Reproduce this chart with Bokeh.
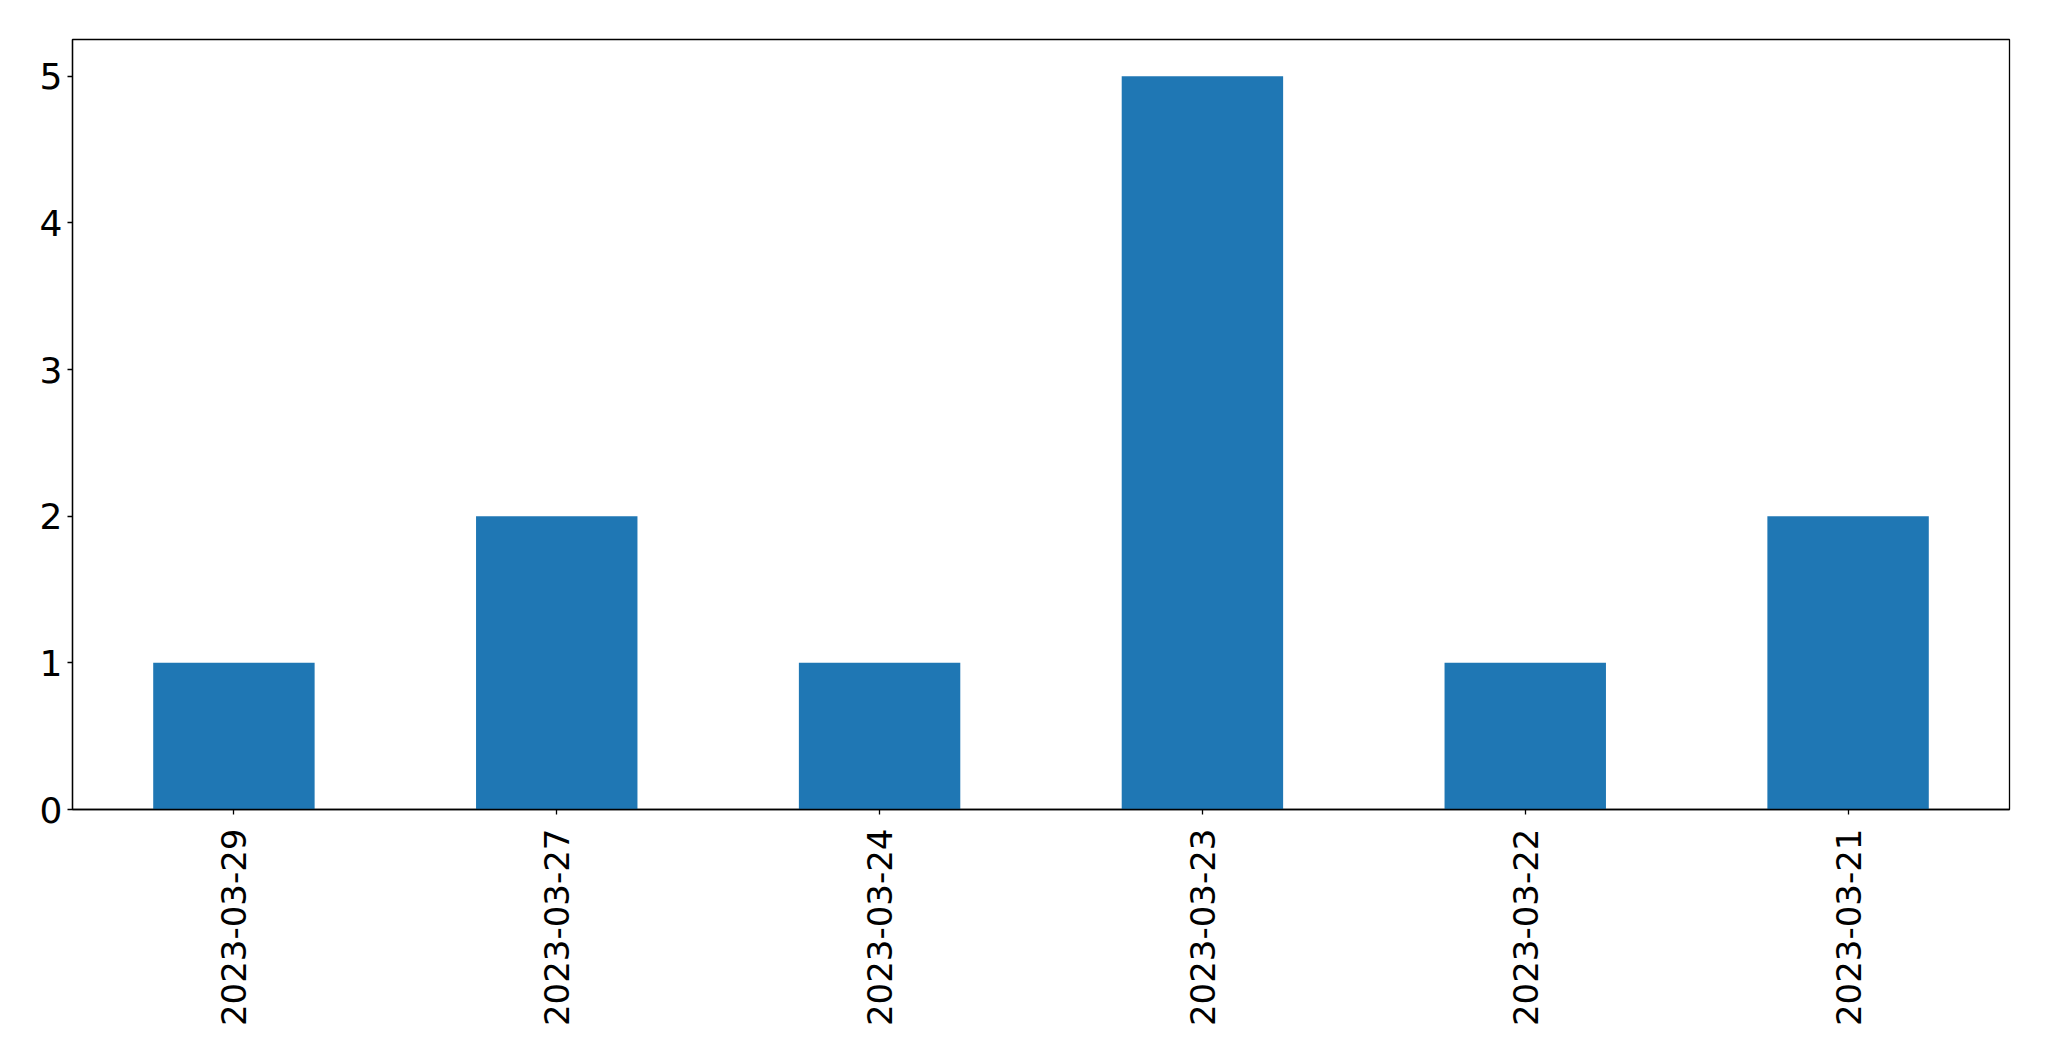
import math
from bokeh.plotting import figure
from bokeh.models import Range1d, FixedTicker
from bokeh.embed import file_html
from bokeh.resources import INLINE

dates = ["2023-03-29", "2023-03-27", "2023-03-24", "2023-03-23", "2023-03-22", "2023-03-21"]
counts = [1, 2, 1, 5, 1, 2]
y_ticks = [0, 1, 2, 3, 4, 5]

p = figure(x_range=dates, y_range=Range1d(0, 5.25),
           frame_width=1937, frame_height=770,
           min_border_left=72, min_border_right=29, min_border_top=39, min_border_bottom=240,
           output_backend="svg", toolbar_location=None)

p.vbar(x=dates, top=counts, width=0.5, color="#1f77b4", line_color=None)

p.xgrid.visible = False
p.ygrid.visible = False
p.outline_line_color = "black"
p.outline_line_width = 1.3
p.outline_line_alpha = 1.0

p.yaxis.ticker = FixedTicker(ticks=y_ticks)
for ax in (p.xaxis[0], p.yaxis[0]):
    ax.axis_line_color = "black"
    ax.axis_line_width = 1.3
    ax.major_tick_line_color = "black"
    ax.major_tick_line_width = 1.3
    ax.major_tick_out = 5
    ax.major_tick_in = 0
    ax.minor_tick_line_color = None
    ax.major_label_text_font = "DejaVu Sans"
    ax.major_label_text_color = "black"

p.yaxis.major_label_text_font_size = "36px"
p.xaxis.major_label_text_font_size = "34px"
p.yaxis.major_label_standoff = 5
p.xaxis.major_label_standoff = 14
p.xaxis.major_label_orientation = math.pi / 2

open("out.html", "w").write(file_html(p, INLINE))
